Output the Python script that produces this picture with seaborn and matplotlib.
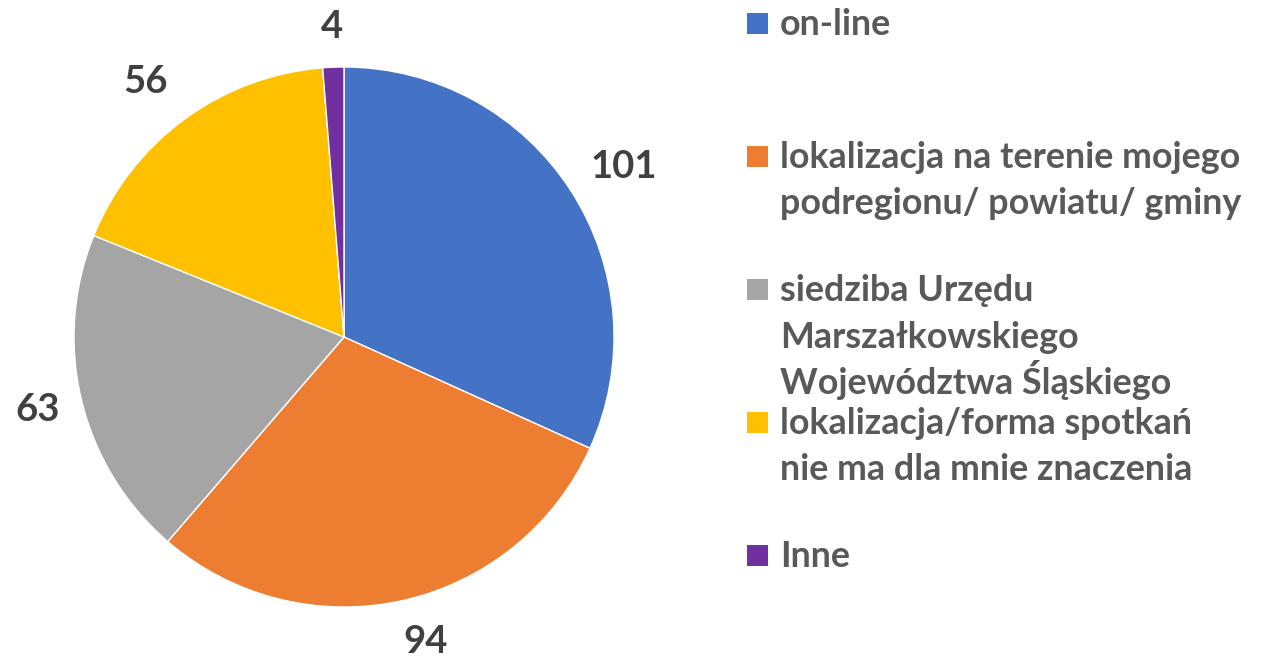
import matplotlib
matplotlib.use("Agg")
import numpy as np
import matplotlib.pyplot as plt
import seaborn as sns
from matplotlib.patches import Rectangle

categories = [
    "on-line",
    "lokalizacja na terenie mojego\npodregionu/ powiatu/ gminy",
    "siedziba Urzędu\nMarszałkowskiego\nWojewództwa Śląskiego",
    "lokalizacja/forma spotkań\nnie ma dla mnie znaczenia",
    "Inne",
]
values = [101, 94, 63, 56, 4]
colors = ["#4472C4", "#ED7D31", "#A5A5A5", "#FFC000", "#7030A0"]

LABEL_COLOR = "#404040"
TEXT_COLOR = "#595959"

sns.set_theme(style="white")
plt.rcParams["font.family"] = ["Lato", "DejaVu Sans"]

W, H = 1268, 658
fig = plt.figure(figsize=(W / 100, H / 100), dpi=100)
fig.patch.set_facecolor("white")

# pie axes: square box in pixels
ax = fig.add_axes([74 / W, 51 / H, 540 / W, 540 / H])
wedges, texts = ax.pie(
    values,
    labels=[str(v) for v in values],
    colors=colors,
    startangle=90,
    counterclock=False,
    labeldistance=1.17,
    wedgeprops=dict(linewidth=1, edgecolor="white"),
    textprops=dict(fontsize=27.5, fontweight="bold", color=LABEL_COLOR),
)
# Excel puts each data label just outside its slice (outside end),
# so radius / angle nudge differ slightly per label
label_radius = [1.213, 1.170, 1.165, 1.196, 1.149]
label_shift = [-1.6, 2.6, -0.2, 1.6, 0.0]
for w, t, r, s in zip(wedges, texts, label_radius, label_shift):
    ang = np.deg2rad((w.theta1 + w.theta2) / 2 + s)
    t.set_position((r * np.cos(ang), r * np.sin(ang)))
    t.set_horizontalalignment("center")
    t.set_verticalalignment("center")
ax.set_xlim(-1, 1)
ax.set_ylim(-1, 1)
ax.set_aspect("auto")

# legend drawn by hand to match the Excel-like spacing
sq = 21
x_sq = 747
x_txt = 780
line_h = 46.5
for i, (lab, col) in enumerate(zip(categories, colors)):
    top = 13 + 133 * i
    fig.patches.append(Rectangle((x_sq / W, 1 - (top + sq) / H), sq / W, sq / H,
                                 transform=fig.transFigure, facecolor=col,
                                 edgecolor="none"))
    for j, line in enumerate(lab.split("\n")):
        base = top + sq + 1 + j * line_h
        fig.text(x_txt / W, 1 - base / H, line, ha="left", va="baseline",
                 fontsize=25.8, fontweight="bold", color=TEXT_COLOR)

plt.savefig("out.png", dpi=100, facecolor="white")
plt.close()
